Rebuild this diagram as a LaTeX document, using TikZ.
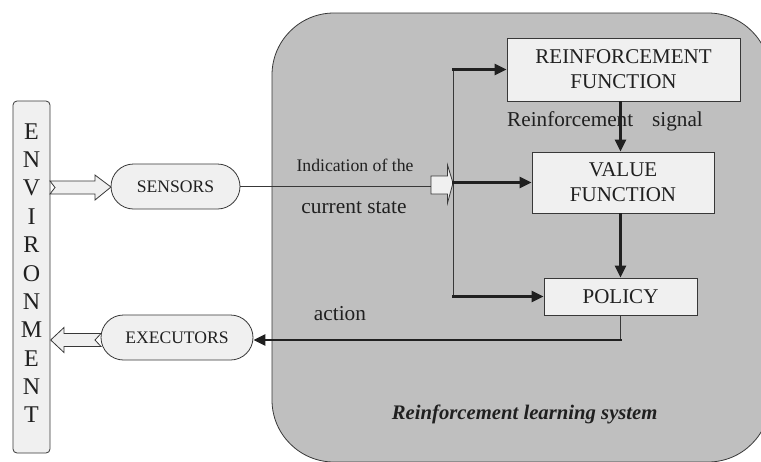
\documentclass[tikz,border=0pt]{standalone}
\usepackage{fontspec}
\setmainfont{Liberation Serif}
\usetikzlibrary{arrows.meta}
\definecolor{ink}{HTML}{202020}
\definecolor{edge}{HTML}{383838}
\definecolor{panel}{HTML}{BFBFBF}
\definecolor{boxfill}{HTML}{F0F0F0}

\tikzset{
  panelbox/.style={draw=edge, fill=panel, line width=0.8pt, rounded corners=62pt},
  blockbox/.style={draw=edge, fill=boxfill, line width=0.9pt, text=ink, align=center,
                   inner sep=0pt, font=\fontsize{21}{25}\selectfont},
  pill/.style={draw=edge, fill=boxfill, line width=0.8pt, rounded corners=22.5pt,
               minimum height=45pt, inner sep=0pt, text=ink, font=\fontsize{17.6}{20}\selectfont},
  envbox/.style={draw=edge, fill=boxfill, line width=0.8pt, rounded corners=4pt,
                 minimum width=37pt, minimum height=352pt, inner sep=0pt},
  envletters/.style={text=ink, align=center, inner sep=0pt, font=\fontsize{24}{28.37}\selectfont},
  caption/.style={text=ink, inner sep=0pt, anchor=base},
  flow/.style={draw=ink, line width=2.6pt, -{Triangle[length=12pt,width=11pt]}},
  wire/.style={draw=edge, line width=0.9pt},
  hollow/.style={draw=edge, fill=boxfill, line width=0.8pt, line join=miter}
}

\begin{document}
\begin{tikzpicture}[x=1pt,y=-1pt]
  \useasboundingbox (0,0) rectangle (761,461);
  \fill[white] (0,0) rectangle (761,461);

  % grey panel of the learning system, running past the right and bottom edges
  \begin{scope}
    \clip (0,0) rectangle (761,461);
    \path[panelbox] (272,13) rectangle (770,462);
  \end{scope}

  % environment column
  \node[envbox] (env) at (31.5,277) {};
  \node[envletters] (envtext) at (31.5,273.2) {E\\N\\V\\I\\R\\O\\N\\M\\E\\N\\T};

  % sensors and executors
  \node[pill, minimum width=129pt] (sens) at (175.5,186.5) {SENSORS};
  \node[pill, minimum width=152pt] (exec) at (177,337.5) {EXECUTORS};

  % blocks of the learning system
  \node[blockbox, minimum width=233pt, minimum height=63pt] (rf) at (623.5,69.5) {REINFORCEMENT\\FUNCTION};
  \node[blockbox, minimum width=182pt, minimum height=61pt] (vf) at (623,182.5) {VALUE\\FUNCTION};
  \node[blockbox, minimum width=153pt, minimum height=37pt] (pol) at (620.5,296.5) {POLICY};

  % hollow arrows between environment and sensors / executors
  \path[hollow] (50,181) -- (95,181) -- (95,175) -- (111,187) -- (95,200) -- (95,194)
                -- (50,194) -- (55,187.5) -- cycle;
  \path[hollow] (101,333.5) -- (64,333.5) -- (64,327.5) -- (50.7,340) -- (64,352.5)
                -- (64,346.5) -- (101,346.5) -- (95,340) -- cycle;

  % state signal from the sensors into the distribution bus
  \coordinate (statein) at (431,186.5);
  \coordinate (bustop) at (453,69.5);
  \coordinate (busmid) at (453,182.5);
  \coordinate (busbot) at (453,296.5);
  \draw[wire] (sens.east) -- (statein);
  \path[hollow] (statein) -- (431,176) -- (447.5,176) -- (447.5,165) -- (453,183)
                -- (447.5,203) -- (447.5,194) -- (431,194) -- cycle;
  \draw[wire] (bustop) -- (453,298);

  \draw[flow] ([xshift=-1pt]bustop) -- (rf.west);
  \draw[flow] ([xshift=-1pt]busmid) -- (vf.west);
  \draw[flow] ([xshift=-1pt]busbot) -- (pol.west);

  \draw[flow] (pol.north |- rf.south) -- (pol.north |- vf.north);
  \draw[flow] (pol.north |- vf.south) -- (pol.north);

  % action back to the executors
  \coordinate (actcorner) at (620.5,340);
  \draw[wire] (pol.south) -- (actcorner);
  \draw[flow] ([xshift=1pt]actcorner) -- (exec.east |- actcorner);

  % labels
  \node[caption, font=\fontsize{17.7}{20}\selectfont] (ind) at (355,171.7) {Indication of the};
  \node[caption, font=\fontsize{21.4}{25}\selectfont] (cur) at (354,213.3) {current state};
  \node[caption, font=\fontsize{21.2}{25}\selectfont, anchor=base west] (sig) at (507,126.7)
       {Reinforcement\hspace{19pt}signal};
  \node[caption, font=\fontsize{21.3}{25}\selectfont] (act) at (340,320.7) {action};
  \node[caption, font=\fontsize{20.7}{25}\selectfont\bfseries\itshape] (rls) at (524.7,419.3)
       {Reinforcement learning system};
\end{tikzpicture}
\end{document}
